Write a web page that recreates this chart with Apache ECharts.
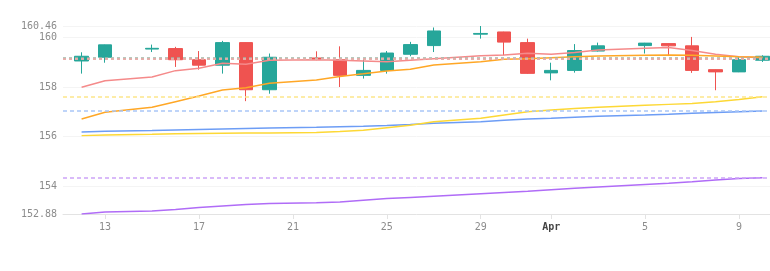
<!DOCTYPE html>
<html>
<head>
<meta charset="utf-8">
<script src="https://cdn.jsdelivr.net/npm/echarts@6/dist/echarts.min.js"></script>
<style>
  html, body { margin: 0; padding: 0; background: #fff; }
  #main { width: 770px; height: 271px; }
</style>
</head>
<body>
<div id="main"></div>
<script>
var dates = ['2021-03-12', '2021-03-13', '2021-03-15', '2021-03-16', '2021-03-17', '2021-03-18', '2021-03-19', '2021-03-20',
  '2021-03-22', '2021-03-23', '2021-03-24', '2021-03-25', '2021-03-26', '2021-03-27', '2021-03-29', '2021-03-30',
  '2021-03-31', '2021-04-01', '2021-04-02', '2021-04-03', '2021-04-05', '2021-04-06', '2021-04-07', '2021-04-08',
  '2021-04-09', '2021-04-10']
var opens  = [159.05, 159.20, 159.53, 159.55, 159.10, 158.88, 159.79, 157.89, 159.17, 159.10, 158.47, 158.67, 159.32,
  159.67, 160.13, 160.22, 159.79, 158.57, 158.67, 159.45, 159.67, 159.75, 159.66, 158.70, 158.61, 159.08]
var closes = [159.24, 159.70, 159.56, 159.10, 158.88, 159.79, 157.89, 159.20, 159.12, 158.47, 158.67, 159.37, 159.71,
  160.26, 160.16, 159.81, 158.55, 158.67, 159.47, 159.66, 159.77, 159.66, 158.67, 158.61, 159.10, 159.24]
var lows   = [158.54, 158.98, 159.41, 158.81, 158.70, 158.54, 157.43, 157.73, 159.08, 158.00, 158.34, 158.54, 159.24,
  159.41, 159.95, 159.28, 158.53, 158.27, 158.58, 159.43, 159.35, 159.28, 158.57, 157.87, 158.60, 159.01]
var highs  = [159.40, 159.71, 159.71, 159.62, 159.45, 159.86, 159.80, 159.35, 159.44, 159.64, 159.14, 159.45, 159.82,
  160.40, 160.46, 160.23, 159.95, 158.98, 159.73, 159.79, 159.78, 159.76, 160.02, 158.71, 159.21, 159.28]

var maRed    = [157.99, 158.25, 158.40, 158.66, 158.76, 158.96, 158.92, 159.08, 159.10, 159.08, 159.05, 159.02, 159.08,
  159.14, 159.26, 159.29, 159.36, 159.32, 159.39, 159.49, 159.56, 159.59, 159.47, 159.32, 159.22, 159.18]
var maOrange = [156.71, 156.98, 157.18, 157.41, 157.64, 157.88, 157.97, 158.15, 158.28, 158.42, 158.53, 158.65, 158.72,
  158.89, 159.02, 159.12, 159.14, 159.18, 159.22, 159.25, 159.28, 159.29, 159.28, 159.25, 159.22, 159.20]
var maBlue   = [156.19, 156.22, 156.25, 156.27, 156.29, 156.31, 156.33, 156.35, 156.38, 156.40, 156.42, 156.45, 156.49,
  156.54, 156.60, 156.66, 156.71, 156.74, 156.78, 156.82, 156.87, 156.90, 156.94, 156.97, 157.00, 157.03]
var maYellow = [156.04, 156.07, 156.10, 156.12, 156.13, 156.14, 156.15, 156.15, 156.17, 156.21, 156.26, 156.36, 156.46,
  156.60, 156.74, 156.87, 157.00, 157.07, 157.13, 157.18, 157.26, 157.30, 157.34, 157.41, 157.50, 157.61]
var maPurple = [152.88, 152.96, 153.00, 153.06, 153.14, 153.20, 153.26, 153.30, 153.33, 153.36, 153.43, 153.50, 153.55,
  153.60, 153.70, 153.75, 153.80, 153.86, 153.92, 153.97, 154.07, 154.12, 154.18, 154.25, 154.31, 154.34]

// price lines drawn on the candle series
var priceLines = [159.16, 159.12]

var chart = echarts.init(document.getElementById('main'))

var candleData = dates.map((d, i) => [d, opens[i], closes[i], lows[i], highs[i]])

var maLine = function (name, values, color, dashColor) {
  var s = {
    name: name,
    type: 'line',
    data: dates.map((d, i) => [d, values[i]]),
    showSymbol: false,
    lineStyle: { color: color, width: 1.5 },
    itemStyle: { color: color },
    z: 3
  }
  // last value line
  if (dashColor) {
    s.markLine = {
      silent: true,
      symbol: 'none',
      label: { show: false },
      lineStyle: { color: dashColor, type: [4, 3], width: 1.5 },
      data: [{ yAxis: values[values.length - 1] }]
    }
  }
  return s
}

chart.setOption({
  animation: false,
  grid: { left: 63, right: 0, top: 26, bottom: 57 },
  xAxis: {
    type: 'time',
    min: '2021-03-11 05:00',
    max: '2021-04-10 07:40',
    axisLine: { lineStyle: { color: '#e3e3e3' } },
    axisTick: { lineStyle: { color: '#e3e3e3' } },
    splitLine: { show: false },
    axisLabel: {
      fontSize: 10,
      fontFamily: 'DejaVu Sans Mono',
      color: function (value) {
        return new Date(value).getDate() == 1 ? '#444' : '#8c8c8c'
      }
    }
  },
  yAxis: {
    type: 'value',
    scale: true,
    min: 'dataMin',
    max: 'dataMax',
    axisLine: { show: false },
    axisTick: { show: false },
    splitLine: { lineStyle: { color: '#f4f4f4' } },
    axisLabel: { color: '#8c8c8c', fontSize: 10, fontFamily: 'DejaVu Sans Mono', margin: 6 }
  },
  series: [
    {
      name: 'price',
      type: 'candlestick',
      data: candleData,
      barWidth: 14,
      itemStyle: {
        color: '#26a69a', color0: '#ef5350',
        borderColor: '#26a69a', borderColor0: '#ef5350'
      },
      markLine: {
        silent: true,
        symbol: 'none',
        label: { show: false },
        data: [
          { yAxis: priceLines[0], lineStyle: { color: '#9fb8a8', type: [3, 3], width: 2.5 } },
          { yAxis: priceLines[1], lineStyle: { color: '#f7a9a8', type: [3, 3], width: 1.5 } }
        ]
      }
    },
    maLine('MA5', maRed, '#f58a8a'),
    maLine('MA10', maOrange, '#ffa726'),
    maLine('MA20', maBlue, '#6d9df5', '#a9c6f7'),
    maLine('MA30', maYellow, '#fdd835', '#fde68a'),
    maLine('MA60', maPurple, '#b06cf7', '#cda4f8')
  ]
})
</script>
</body>
</html>
